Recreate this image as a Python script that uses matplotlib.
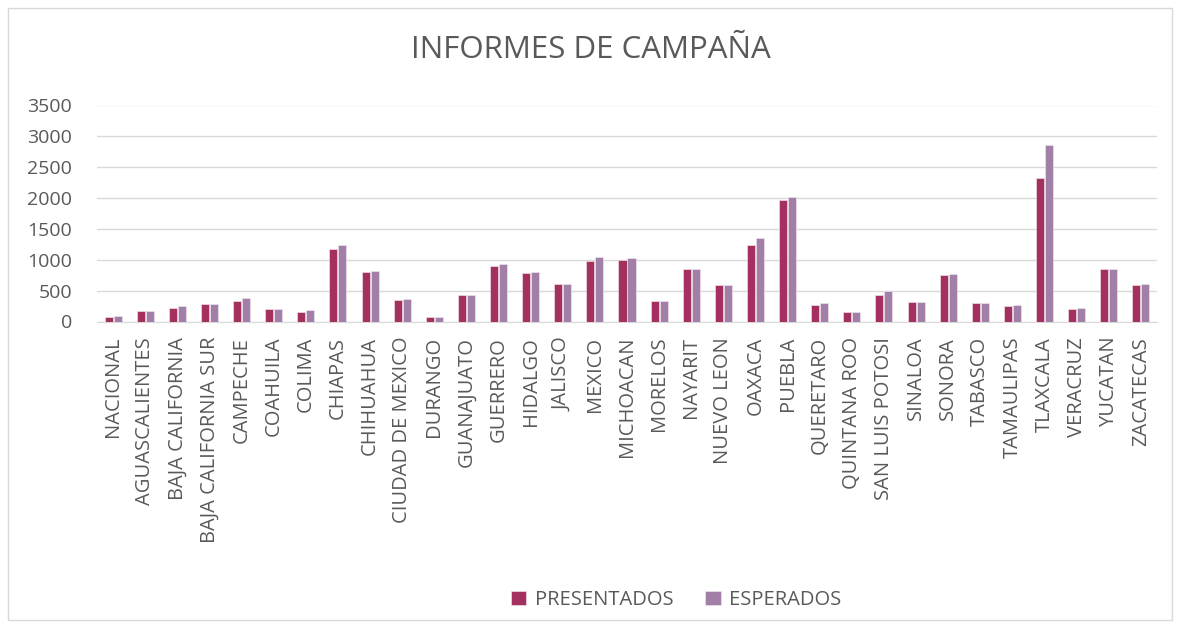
import matplotlib.pyplot as plt
import numpy as np
from matplotlib.patches import Rectangle

estados = ["NACIONAL", "AGUASCALIENTES", "BAJA CALIFORNIA", "BAJA CALIFORNIA SUR",
           "CAMPECHE", "COAHUILA", "COLIMA", "CHIAPAS", "CHIHUAHUA",
           "CIUDAD DE MEXICO", "DURANGO", "GUANAJUATO", "GUERRERO", "HIDALGO",
           "JALISCO", "MEXICO", "MICHOACAN", "MORELOS", "NAYARIT", "NUEVO LEON",
           "OAXACA", "PUEBLA", "QUERETARO", "QUINTANA ROO", "SAN LUIS POTOSI",
           "SINALOA", "SONORA", "TABASCO", "TAMAULIPAS", "TLAXCALA", "VERACRUZ",
           "YUCATAN", "ZACATECAS"]
presentados = [70, 163, 222, 276, 330, 195, 157, 1176, 807, 352, 81, 433, 905,
               791, 612, 975, 991, 336, 845, 585, 1246, 1967, 271, 152, 423,
               314, 758, 298, 255, 2329, 195, 851, 585]
esperados = [92, 168, 244, 276, 374, 206, 190, 1241, 823, 358, 81, 433, 937,
             807, 612, 1051, 1035, 336, 856, 585, 1360, 2010, 303, 157, 498,
             314, 775, 303, 260, 2860, 217, 856, 612]

plt.rcParams['font.family'] = ['Open Sans', 'DejaVu Sans']
gris = '#595959'

fig = plt.figure(figsize=(11.82, 6.27), dpi=100)
ax = fig.add_axes([97 / 1182, 1 - 321.5 / 627, 1060 / 1182, 216 / 627])

x = np.arange(len(estados))
w = 0.25
ax.bar(x - 0.14, presentados, w, color='#A3305F', edgecolor='#F0DCE5', linewidth=0.5,
       label='PRESENTADOS', zorder=3)
ax.bar(x + 0.14, esperados, w, color='#A17FA7', edgecolor='#EDE3EF', linewidth=0.5,
       label='ESPERADOS', zorder=3)

ax.set_xlim(-0.5, len(estados) - 0.5)
ax.set_ylim(0, 3500)
ax.set_yticks(range(0, 3501, 500))
ax.yaxis.grid(True, color='#D9D9D9', linewidth=1)
ax.set_axisbelow(True)
for s in ['top', 'right', 'left']:
    ax.spines[s].set_visible(False)
ax.spines['bottom'].set_color('#D9D9D9')
ax.tick_params(axis='both', length=0, colors=gris)
ax.tick_params(axis='y', pad=18, labelsize=14)
ax.set_xticks(x)
ax.set_xticklabels(estados, rotation=90, va='top', ha='center')
ax.tick_params(axis='x', pad=11, labelsize=14.5)

fig.text(0.5, 1 - 50 / 627, 'INFORMES DE CAMPAÑA', ha='center', va='center',
         fontsize=22.5, color=gris)

fig.legend(loc='center', bbox_to_anchor=(0.572, 1 - 600 / 627), ncol=2, frameon=False,
           fontsize=14.5, labelcolor=gris, handlelength=0.75, handleheight=0.75,
           columnspacing=1.6, handletextpad=0.4)

fig.patches.append(Rectangle((8 / 1182, 1 - 620 / 627), 1164 / 1182, 612 / 627,
                             transform=fig.transFigure, fill=False,
                             edgecolor='#D9D9D9', linewidth=1))

fig.savefig('out.png', dpi=100, facecolor='white')
